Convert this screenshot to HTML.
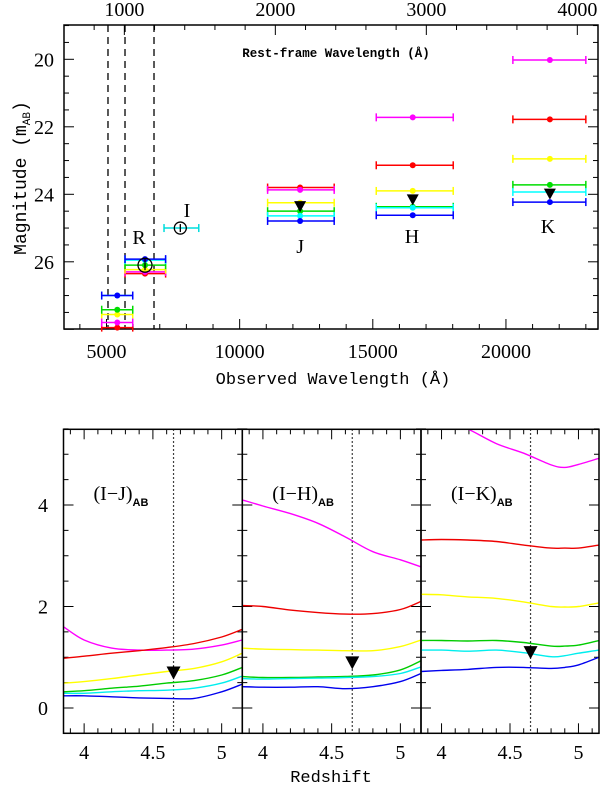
<!DOCTYPE html>
<html><head><meta charset="utf-8"><style>
html,body{margin:0;padding:0;background:#fff;}
svg{display:block;}
text{font-family:"Liberation Serif",serif;fill:#000;}
.mono{font-family:"Liberation Mono",monospace;}
</style></head><body>
<svg id="chart" width="600" height="789" viewBox="0 0 600 789" xmlns="http://www.w3.org/2000/svg"></svg>
<script>
// ---------- TOP PANEL DATA ----------
const colorNames = ['magenta','red','yellow','green','cyan','blue'];
const colorHex = ['#ff00ff','#ff0000','#ffff00','#00dd00','#00ffff','#0000ff'];
const bandNames = ['V','R','J','H','K'];
const bandCenters = [5405, 6446, 12270, 16500, 21650];
const bandLo = [4820, 5695, 11050, 15130, 20260];
const bandHi = [5985, 7220, 13550, 18020, 23000];
// magnitudes per band: magenta, red, yellow, green, cyan, blue
const magV = [27.8, 27.95, 27.56, 27.42, 27.0, 27.0];
const magR = [26.3, 26.35, 26.23, 26.1, 25.95, 25.92];
const magJ = [23.87, 23.8, 24.25, 24.5, 24.64, 24.79];
const magH = [21.72, 23.14, 23.9, 24.37, 24.4, 24.62];
const magK = [20.02, 21.78, 22.95, 23.72, 23.93, 24.23];
const bandMags = [magV, magR, magJ, magH, magK];
const obsI = [7772, 7160, 8465, 25.0];   // center, lo, hi, mag
const obsR = [6446, 26.1];
const limitBands = [12270, 16500, 21650];
const limitMags = [24.35, 24.15, 23.98];
const dashedLines = [5056, 5695, 6784];
const xTicksObs = [5000, 10000, 15000, 20000];
const yTicksMag = [20, 22, 24, 26];
const restTicks = [1000, 2000, 3000, 4000];
const zFactor = 5.67;
const bandLabels = ['R','I','J','H','K'];
const bandLabelX = [6222, 8023, 12270, 16470, 21580];
const bandLabelMag = [25.26, 24.47, 25.53, 25.23, 24.94];

// ---------- BOTTOM PANEL DATA ----------
const zGrid = [3.85, 4.0, 4.2, 4.4, 4.6, 4.8, 5.0, 5.15];
const zGridK = [3.85, 4.0, 4.19, 4.4, 4.6, 4.8, 4.9, 5.0, 5.15];
const IJ_magenta = [1.6, 1.34, 1.18, 1.14, 1.14, 1.16, 1.24, 1.34];
const IJ_red = [0.98, 1.02, 1.08, 1.13, 1.19, 1.27, 1.4, 1.55];
const IJ_yellow = [0.49, 0.52, 0.58, 0.65, 0.72, 0.78, 0.91, 1.08];
const IJ_green = [0.32, 0.34, 0.39, 0.43, 0.49, 0.54, 0.65, 0.8];
const IJ_cyan = [0.29, 0.29, 0.32, 0.34, 0.35, 0.39, 0.49, 0.63];
const IJ_blue = [0.24, 0.24, 0.22, 0.2, 0.19, 0.19, 0.32, 0.47];
const IH_magenta = [4.1, 3.98, 3.83, 3.64, 3.37, 3.08, 2.92, 2.78];
const IH_red = [2.02, 2.0, 1.93, 1.88, 1.85, 1.86, 1.94, 2.1];
const IH_yellow = [1.18, 1.16, 1.15, 1.14, 1.13, 1.13, 1.21, 1.34];
const IH_green = [0.62, 0.6, 0.6, 0.61, 0.62, 0.65, 0.75, 0.93];
const IH_cyan = [0.58, 0.57, 0.58, 0.59, 0.6, 0.62, 0.68, 0.81];
const IH_blue = [0.42, 0.41, 0.41, 0.42, 0.38, 0.42, 0.52, 0.68];
const IK_magenta = [5.85, 5.7, 5.5, 5.21, 5.02, 4.79, 4.74, 4.8, 4.92];
const IK_red = [3.31, 3.32, 3.31, 3.28, 3.21, 3.15, 3.15, 3.15, 3.21];
const IK_yellow = [2.24, 2.23, 2.19, 2.16, 2.09, 2.0, 1.99, 2.0, 2.07];
const IK_green = [1.33, 1.33, 1.32, 1.33, 1.29, 1.22, 1.22, 1.24, 1.33];
const IK_cyan = [1.14, 1.14, 1.12, 1.14, 1.09, 1.01, 1.03, 1.08, 1.14];
const IK_blue = [0.72, 0.74, 0.76, 0.8, 0.8, 0.78, 0.8, 0.85, 1.0];
const panelTitles = ['(I\u2212J)', '(I\u2212H)', '(I\u2212K)'];
const panelNames = ['i-j', 'i-h', 'i-k'];
const markerZ = 4.65;
const markerColors = [0.7, 0.9, 1.1];
const zTicks = [4, 4.5, 5];
const colorTicks = [0, 2, 4];

const NS = 'http://www.w3.org/2000/svg';
const svg = document.getElementById('chart');
function mk(tag, attrs, parent, txt) {
  const e = document.createElementNS(NS, tag);
  for (const k in attrs) e.setAttribute(k, attrs[k]);
  if (txt !== undefined) e.textContent = txt;
  (parent || svg).appendChild(e);
  return e;
}

// ----- top axes -----
const TL = 64, TR = 598, TT = 25, TB = 329;
const xObs = w => 106.5 + (w - 5000) * 0.02663;
const yMag = m => 59.3 + (m - 20) * 33.75;

const topG = mk('g', {});



dashedLines.forEach((w, i) => {
  const l = mk('line', {x1: xObs(w), x2: xObs(w), y1: TT, y2: TB, stroke: '#000', 'stroke-width': 1.3, 'stroke-dasharray': '7,5'}, topG);
  
  
});

for (let w = 4000; w <= 23000; w += 1000) {
  const major = w % 5000 === 0;
  const len = major ? 10 : 5;
  mk('line', {x1: xObs(w), x2: xObs(w), y1: TB, y2: TB - len, stroke: '#000', 'stroke-width': 1}, topG);
}
for (let r = 800; r <= 4000; r += 200) {
  const x = xObs(r * zFactor);
  if (x < TL || x > TR) continue;
  const len = r % 1000 === 0 ? 10 : 5;
  mk('line', {x1: x, x2: x, y1: TT, y2: TT + len, stroke: '#000', 'stroke-width': 1}, topG);
}
for (let m = 19; m <= 28; m += 0.5) {
  const y = yMag(m);
  const len = (m % 2 === 0) ? 10 : 5;
  mk('line', {x1: TL, x2: TL + len, y1: y, y2: y, stroke: '#000', 'stroke-width': 1}, topG);
  mk('line', {x1: TR, x2: TR - len, y1: y, y2: y, stroke: '#000', 'stroke-width': 1}, topG);
}
mk('rect', {x: TL, y: TT, width: TR - TL, height: TB - TT, fill: 'none', stroke: '#000', 'stroke-width': 1.5}, topG);

xTicksObs.forEach(w => {
  const t = mk('text', {x: xObs(w), y: 358, 'text-anchor': 'middle', 'font-size': 20}, topG, String(w));
  
  
});
restTicks.forEach(r => {
  const t = mk('text', {x: xObs(r * zFactor), y: 16, 'text-anchor': 'middle', 'font-size': 20}, topG, String(r));
  
  
});
yTicksMag.forEach(m => {
  const t = mk('text', {x: 54, y: yMag(m) + 7, 'text-anchor': 'end', 'font-size': 20}, topG, String(m));
  
  
});
let t1 = mk('text', {x: 333, y: 384, 'text-anchor': 'middle', 'font-size': 17, class: 'mono'}, topG, 'Observed Wavelength (\u00c5)');


let t2 = mk('text', {x: 336, y: 57, 'text-anchor': 'middle', 'font-size': 12.5, 'font-weight': 'bold', class: 'mono'}, topG, 'Rest-frame Wavelength (\u00c5)');


let yt = mk('text', {transform: 'translate(26,178) rotate(-90)', 'text-anchor': 'middle', 'font-size': 18, class: 'mono'}, topG);


mk('tspan', {}, yt, 'Magnitude (m');
mk('tspan', {'font-size': 11, dy: 4}, yt, 'AB');
mk('tspan', {dy: -4}, yt, ')');

function errbar(lo, hi, m, col, g) {
  const y = yMag(m);
  mk('line', {x1: xObs(lo), x2: xObs(hi), y1: y, y2: y, stroke: col, 'stroke-width': 1.5}, g);
  mk('line', {x1: xObs(lo), x2: xObs(lo), y1: y - 4, y2: y + 4, stroke: col, 'stroke-width': 1.5}, g);
  mk('line', {x1: xObs(hi), x2: xObs(hi), y1: y - 4, y2: y + 4, stroke: col, 'stroke-width': 1.5}, g);
}
const drawOrder = [1, 0, 2, 3, 4, 5];
bandNames.forEach((b, bi) => {
  const g = mk('g', {}, topG);
  
  
  drawOrder.forEach(ci => {
    errbar(bandLo[bi], bandHi[bi], bandMags[bi][ci], colorHex[ci], g);
    const c = mk('circle', {cx: xObs(bandCenters[bi]), cy: yMag(bandMags[bi][ci]), r: 3, fill: colorHex[ci]}, g);
    
    
  });
});
errbar(obsI[1], obsI[2], obsI[3], '#00dddd', topG);
let ci1 = mk('circle', {cx: xObs(obsI[0]), cy: yMag(obsI[3]), r: 6, fill: 'none', stroke: '#000', 'stroke-width': 1.3}, topG);


mk('line', {x1: xObs(obsI[0]), x2: xObs(obsI[0]), y1: yMag(obsI[3]) - 4, y2: yMag(obsI[3]) + 4, stroke: '#000', 'stroke-width': 1.3}, topG);
let ci2 = mk('circle', {cx: xObs(obsR[0]), cy: yMag(obsR[1]), r: 7, fill: 'none', stroke: '#000', 'stroke-width': 1.3}, topG);


mk('line', {x1: xObs(obsR[0]), x2: xObs(obsR[0]), y1: yMag(obsR[1]) - 7, y2: yMag(obsR[1]) + 5, stroke: '#000', 'stroke-width': 1.3}, topG);
limitBands.forEach((w, i) => {
  const x = xObs(w), y = yMag(limitMags[i]);
  const p = mk('polygon', {points: `${x-6},${y-5} ${x+6},${y-5} ${x},${y+6}`, fill: '#000'}, topG);
  
  
});
bandLabels.forEach((b, i) => {
  const t = mk('text', {x: xObs(bandLabelX[i]), y: yMag(bandLabelMag[i]) + 7, 'text-anchor': 'middle', 'font-size': 20}, topG, b);
  
  
});

// ----- bottom panels -----
const BT = 429.3, BB = 733.3;
const panelX = [63.5, 242.3, 421, 599];
const yCol = v => 708 - v * 50.75;
const panelSeries = [
  [IJ_magenta, IJ_red, IJ_yellow, IJ_green, IJ_cyan, IJ_blue],
  [IH_magenta, IH_red, IH_yellow, IH_green, IH_cyan, IH_blue],
  [IK_magenta, IK_red, IK_yellow, IK_green, IK_cyan, IK_blue]
];
const panelGrids = [zGrid, zGrid, zGridK];
const lineColors = ['#ff00ff','#ee0000','#ffff00','#00cc00','#00eeee','#0000ee'];

function smoothPath(pts) {
  let d = 'M' + pts[0][0].toFixed(1) + ',' + pts[0][1].toFixed(1);
  for (let i = 0; i < pts.length - 1; i++) {
    const p0 = pts[Math.max(0, i - 1)], p1 = pts[i], p2 = pts[i + 1], p3 = pts[Math.min(pts.length - 1, i + 2)];
    const c1 = [p1[0] + (p2[0] - p0[0]) / 6, p1[1] + (p2[1] - p0[1]) / 6];
    const c2 = [p2[0] - (p3[0] - p1[0]) / 6, p2[1] - (p3[1] - p1[1]) / 6];
    d += ' C' + c1.map(v => v.toFixed(1)).join(',') + ' ' + c2.map(v => v.toFixed(1)).join(',') + ' ' + p2.map(v => v.toFixed(1)).join(',');
  }
  return d;
}

const defs = mk('defs', {});
for (let i = 0; i < 3; i++) {
  const cp = mk('clipPath', {id: 'cp' + i}, defs);
  mk('rect', {x: panelX[i], y: BT, width: panelX[i + 1] - panelX[i], height: BB - BT}, cp);
}

for (let p = 0; p < 3; p++) {
  const L = panelX[p], R = panelX[p + 1];
  const xz = z => L + (z - 3.85) / 1.3 * (R - L);
  const g = mk('g', {});
  
  
  for (let k = 39; k <= 51; k++) {
    const zz = k / 10;
    const len = (k % 5 === 0) ? 10 : 5;
    mk('line', {x1: xz(zz), x2: xz(zz), y1: BB, y2: BB - len, stroke: '#000'}, g);
    mk('line', {x1: xz(zz), x2: xz(zz), y1: BT, y2: BT + len, stroke: '#000'}, g);
  }
  for (let k = -1; k <= 11; k++) {
    const v = k / 2;
    const len = (k % 4 === 0) ? 10 : 5;
    mk('line', {x1: L, x2: L + len, y1: yCol(v), y2: yCol(v), stroke: '#000'}, g);
    mk('line', {x1: R, x2: R - len, y1: yCol(v), y2: yCol(v), stroke: '#000'}, g);
  }
  mk('line', {x1: xz(markerZ), x2: xz(markerZ), y1: BT, y2: BB, stroke: '#000', 'stroke-width': 1.2, 'stroke-dasharray': '1.5,2.5'}, g);
  const cg = mk('g', {'clip-path': `url(#cp${p})`}, g);
  panelSeries[p].forEach((arr, ci) => {
    const pts = arr.map((v, i) => [xz(panelGrids[p][i]), yCol(v)]);
    const path = mk('path', {d: smoothPath(pts), fill: 'none', stroke: lineColors[ci], 'stroke-width': 1.4, 'stroke-linejoin': 'round'}, cg);
    
    
  });
  const mx = xz(markerZ), my = yCol(markerColors[p]);
  const tri = mk('polygon', {points: `${mx-7},${my-6} ${mx+7},${my-6} ${mx},${my+7}`, fill: '#000'}, g);
  
  
  mk('rect', {x: L, y: BT, width: R - L, height: BB - BT, fill: 'none', stroke: '#000', 'stroke-width': 1.5}, g);
  zTicks.forEach(z => {
    const t = mk('text', {x: xz(z), y: 759, 'text-anchor': 'middle', 'font-size': 20}, g, String(z));
    
    
  });
  const lt = mk('text', {x: L + 30, y: 500, 'font-size': 20}, g);
  
  
  mk('tspan', {}, lt, panelTitles[p]);
  mk('tspan', {'font-size': 11, dy: 6, 'font-family': 'Liberation Sans, sans-serif', 'font-weight': 'bold'}, lt, 'AB');
}
colorTicks.forEach(v => {
  const t = mk('text', {x: 48, y: yCol(v) + 7, 'text-anchor': 'end', 'font-size': 20}, svg, String(v));
  
  
});
let rt = mk('text', {x: 331, y: 782, 'text-anchor': 'middle', 'font-size': 17, class: 'mono'}, svg, 'Redshift');


</script>
</body></html>
